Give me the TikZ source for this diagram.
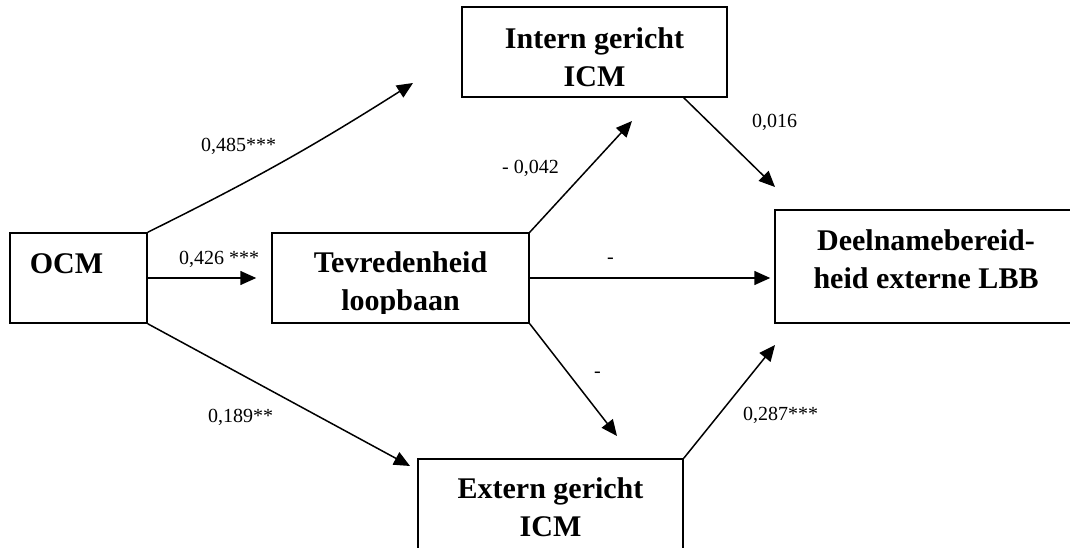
\documentclass[tikz,border=0pt]{standalone}
\usepackage{fontspec}
\setmainfont{Liberation Serif}
\usepackage{tikz}
\usetikzlibrary{arrows.meta, positioning, calc}

\begin{document}
\begin{tikzpicture}[
    x=1pt, y=-1pt,
    box/.style={rectangle, draw=black, line width=1.5pt, inner sep=0pt},
    boxtext/.style={anchor=north, align=center, inner sep=0pt, font=\fontsize{30}{38}\selectfont\bfseries},
    coef/.style={anchor=base west, inner sep=0pt, font=\fontsize{20}{24}\selectfont},
    arrow/.style={-{Triangle[length=16pt, width=14pt]}, line width=1.5pt}
]

\useasboundingbox (0,0) rectangle (1070,548);
\clip (0,0) rectangle (1070,548);

% OCM box
\node[box, minimum width=137pt, minimum height=90pt] (ocm) at (78.5,278) {};
\node[boxtext] (ocmtxt) at (66.5,253) {OCM};

% Tevredenheid box
\node[box, minimum width=257pt, minimum height=90pt] (tev) at (400.5,278) {};
\begin{scope}
    \clip (tev.north west) rectangle ([yshift=10pt]tev.south east);
    \node[boxtext] (tevtxt) at (400.5,251.7) {Tevredenheid\\loopbaan};
\end{scope}

% Intern gericht box
\node[box, minimum width=265pt, minimum height=90pt] (intern) at (594.5,52) {};
\node[boxtext] (interntxt) at (594.5,27.7) {Intern gericht\\ICM};

% Extern gericht box
\node[box, minimum width=265pt, minimum height=92pt] (extern) at (550.5,505) {};
\node[boxtext] (externtxt) at (550.5,477.7) {Extern gericht\\ICM};

% Deelnamebereidheid box
\node[box, minimum width=302pt, minimum height=113pt] (deel) at (926,266.5) {};
\node[boxtext] (deeltxt) at (926,229.7) {Deelnamebereid-\\heid externe LBB};

% Arrow tips
\coordinate (t1) at (413,83);
\coordinate (t3) at (410,466);
\coordinate (t4) at (632,121);
\coordinate (t6) at (617,436);
\coordinate (t7) at (775,187);
\coordinate (t8) at (775,345);

% Connecting arrows
\draw[arrow] (ocm.north east) to[bend right=3] (t1);
\draw[arrow, shorten >=15pt] (ocm) -- (tev);
\draw[arrow] (ocm.south east) -- (t3);
\draw[arrow] (tev.north east) -- (t4);
\draw[arrow, shorten >=4pt] (tev.east) -- (tev.east -| deel.west);
\draw[arrow] (tev.south east) -- (t6);
\draw[arrow] ([xshift=-44pt]intern.south east) -- (t7);
\draw[arrow] (extern.north east) -- (t8);

% Coefficients
\node[coef] (c1) at (201,152) {0,485***};
\node[coef] (c2) at (179,264) {0,426 ***};
\node[coef] (c3) at (208,422) {0,189**};
\node[coef] (c4) at (502,174) {- 0,042};
\node[coef] (c5) at (607,263) {-};
\node[coef] (c6) at (594,377) {-};
\node[coef] (c7) at (752,128) {0,016};
\node[coef] (c8) at (743,420) {0,287***};

\end{tikzpicture}
\end{document}
